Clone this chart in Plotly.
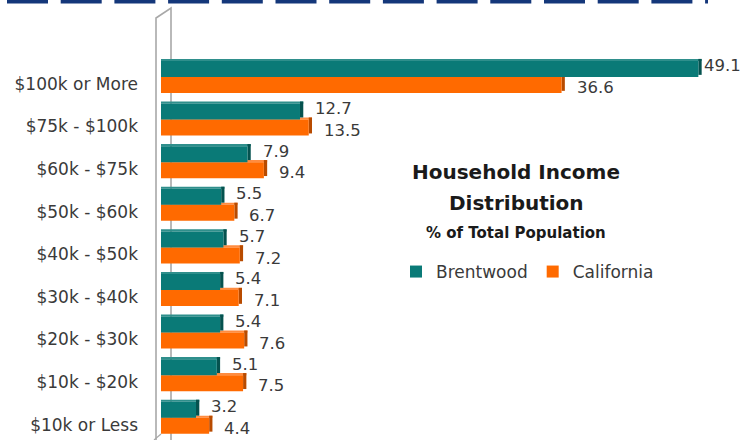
import plotly.graph_objects as go

# Household income brackets, top to bottom
categories = ["$100k or More", "$75k - $100k", "$60k - $75k", "$50k - $60k",
              "$40k - $50k", "$30k - $40k", "$20k - $30k", "$10k - $20k",
              "$10k or Less"]
brentwood = [49.1, 12.7, 7.9, 5.5, 5.7, 5.4, 5.4, 5.1, 3.2]
california = [36.6, 13.5, 9.4, 6.7, 7.2, 7.1, 7.6, 7.5, 4.4]

TEAL, TEAL_SIDE, TEAL_TOP = "#0a7a77", "#05524f", "#2f8f8c"
ORANGE, ORANGE_SIDE, ORANGE_TOP = "#ff6a00", "#b84b00", "#ff8c40"
TXT = "#3a3a3a"
FONT = "DejaVu Sans"

W, H = 752, 440
ML, MR, MT, MB = 161, 0, 56, 0
XMAX = 54.0
YRANGE = [8.521, -0.493]

pos = list(range(len(categories)))


def px_x(p):
    return (p - ML) / (W - ML - MR)


def px_y(p):
    return (H - MB - p) / (H - MT - MB)


fig = go.Figure()

BAR_W = 0.375
SIDE = 0.3       # depth of the 3D end face, in value units
LIFT = 0.05      # height of the 3D top face, in category units

# orange drawn first so the teal bars sit in front of it
series = [
    ("California", california, ORANGE, ORANGE_SIDE, ORANGE_TOP, 0.0, 2),
    ("Brentwood", brentwood, TEAL, TEAL_SIDE, TEAL_TOP, -BAR_W, 1),
]

for name, vals, col, side_col, top_col, off, rank in series:
    # lighter top face
    fig.add_trace(go.Bar(
        y=pos, x=[v + SIDE for v in vals], orientation="h",
        width=LIFT, offset=off - LIFT,
        marker=dict(color=top_col, line=dict(width=0)),
        showlegend=False, hoverinfo="skip",
    ))
    # darker end face
    fig.add_trace(go.Bar(
        y=pos, x=[SIDE] * len(vals), base=vals, orientation="h",
        width=BAR_W, offset=off - LIFT,
        marker=dict(color=side_col, line=dict(width=0)),
        showlegend=False, hoverinfo="skip",
    ))
    # front face
    fig.add_trace(go.Bar(
        name=name, y=pos, x=vals, orientation="h",
        width=BAR_W, offset=off, marker=dict(color=col, line=dict(width=0)),
        hoverinfo="x+name", legendrank=rank,
    ))

# value labels, kept inside the chart area
LABEL_GAP = 1.2
LABEL_MAX = 49.4
annotations = []
for i, (b, c) in enumerate(zip(brentwood, california)):
    for v, dy in ((b, -0.26), (c, 0.25)):
        annotations.append(dict(
            x=min(v + LABEL_GAP, LABEL_MAX), y=i + dy, xref="x", yref="y",
            text=f"{v:.1f}", showarrow=False, xanchor="left", yanchor="middle",
            font=dict(family=FONT, size=16.5, color=TXT),
        ))

# chart title block
for text, py, size in (("<b>Household Income</b>", 172, 20),
                       ("<b>Distribution</b>", 203, 20),
                       ("<b>% of Total Population</b>", 233, 15)):
    annotations.append(dict(
        x=px_x(516), y=px_y(py), xref="paper", yref="paper", text=text,
        showarrow=False, xanchor="center", yanchor="middle",
        font=dict(family=FONT, size=size, color="#1a1a1a"),
    ))

shapes = [
    # thick dashed rule along the top edge
    dict(type="line", xref="paper", yref="paper",
         x0=px_x(7), x1=px_x(708), y0=px_y(1.5), y1=px_y(1.5),
         line=dict(color="#14377a", width=4, dash="41px,12.7px")),
    # back wall of the 3D plot
    dict(type="path", xref="paper", yref="paper", layer="below",
         path=(f"M {px_x(156)},{px_y(440)} L {px_x(156)},{px_y(18)} "
               f"L {px_x(171)},{px_y(8)} L {px_x(171)},{px_y(440)}"),
         line=dict(color="#a8a8a8", width=1.6), fillcolor="rgba(0,0,0,0)"),
    dict(type="line", xref="paper", yref="paper", layer="below",
         x0=px_x(154), x1=px_x(161), y0=px_y(440), y1=px_y(434),
         line=dict(color="#a8a8a8", width=1.2)),
]

fig.update_layout(
    width=W, height=H,
    margin=dict(l=ML, r=MR, t=MT, b=MB, pad=0),
    paper_bgcolor="white", plot_bgcolor="rgba(0,0,0,0)",
    barmode="overlay",
    font=dict(family=FONT, color=TXT),
    xaxis=dict(range=[0, XMAX], visible=False, fixedrange=True),
    yaxis=dict(range=YRANGE, tickvals=[p + 0.16 for p in pos],
               ticktext=categories, showgrid=False, zeroline=False,
               showline=False, ticks="", ticklabelstandoff=22,
               tickfont=dict(family=FONT, size=17, color=TXT),
               fixedrange=True),
    showlegend=True,
    legend=dict(orientation="h", x=px_x(396), y=px_y(272),
                xanchor="left", yanchor="middle",
                font=dict(family=FONT, size=17, color=TXT),
                itemwidth=30, bgcolor="rgba(0,0,0,0)", tracegroupgap=0),
    annotations=annotations,
    shapes=shapes,
)

fig.write_html("out.html")
